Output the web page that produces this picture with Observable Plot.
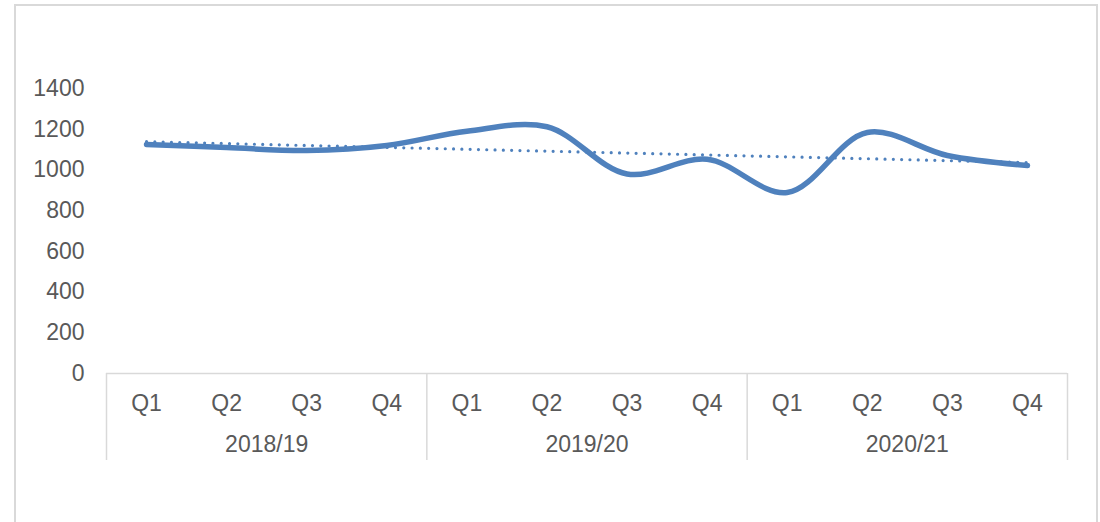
<!DOCTYPE html>
<html>
<head>
<meta charset="utf-8">
<script src="https://cdn.jsdelivr.net/npm/d3@7"></script>
<script src="https://cdn.jsdelivr.net/npm/@observablehq/plot@0.6"></script>
<style>
  html, body { margin: 0; padding: 0; background: #fff; }
  #wrap { position: relative; width: 1100px; height: 522px; overflow: hidden; }
  #border { position: absolute; left: 14px; top: 4px; width: 1084px; height: 560px; border: 2px solid #d9d9d9; box-sizing: border-box; pointer-events: none; }
  #chart { position: absolute; left: 0; top: 0; }
</style>
</head>
<body>
<div id="wrap"><div id="chart"></div><div id="border"></div></div>
<script>
const years = ["2018/19", "2019/20", "2020/21"];
const quarters = ["Q1", "Q2", "Q3", "Q4"];
const values = [1125, 1110, 1095, 1120, 1190, 1212, 980, 1052, 889, 1184, 1071, 1022];
const yTicks = [0, 200, 400, 600, 800, 1000, 1200, 1400];

const data = values.map((v, i) => ({i, v}));

// least-squares linear trendline
const n = values.length;
const mx = d3.mean(data, d => d.i), my = d3.mean(data, d => d.v);
const slope = d3.sum(data, d => (d.i - mx) * (d.v - my)) / d3.sum(data, d => (d.i - mx) ** 2);
const trend = [0, n - 1].map(i => ({i, v: my + slope * (i - mx)}));

const blue = "#4f81bd";
const textColor = "#595959";
const font = "Liberation Sans, Arial, sans-serif";
const fs = 23;

const chart = Plot.plot({
  width: 1100,
  height: 522,
  marginLeft: 106,
  marginRight: 33,
  marginTop: 88,
  marginBottom: 149,
  style: {fontFamily: font, fontSize: fs + "px", color: textColor, background: "transparent"},
  x: {type: "linear", domain: [-0.5, n - 0.5], axis: null},
  y: {domain: [0, 1400], axis: null},
  marks: [
    Plot.axisY({ticks: yTicks, tickSize: 0, tickPadding: 22, tickFormat: d3.format("d"), label: null, fill: textColor, fontSize: fs}),
    Plot.ruleY([0], {stroke: "#d9d9d9", strokeWidth: 1.5}),
    Plot.axisX({ticks: [-0.5, 3.5, 7.5, 11.5], tickSize: 87, tickFormat: () => "", stroke: "#d9d9d9", strokeWidth: 1.5, label: null}),
    Plot.axisX({ticks: d3.range(n), tickSize: 0, tickPadding: 21, tickFormat: i => quarters[i % 4], label: null, fill: textColor, fontSize: fs}),
    Plot.axisX({ticks: years.map((y, k) => k * 4 + 1.5), tickSize: 0, tickPadding: 62, tickFormat: t => years[Math.round((t - 1.5) / 4)], label: null, fill: textColor, fontSize: fs}),
    // soft shadow beneath the series line
    Plot.line(data, {x: "i", y: "v", stroke: "#000", strokeOpacity: 0.18, strokeWidth: 7, dy: 3, curve: "catmull-rom", strokeLinecap: "round", ariaLabel: "shadow-line"}),
    Plot.line(data, {x: "i", y: "v", stroke: blue, strokeWidth: 5.5, curve: "catmull-rom", strokeLinecap: "round"}),
    Plot.line(trend, {x: "i", y: "v", stroke: blue, strokeWidth: 3.2, strokeDasharray: "0 8.3", strokeLinecap: "round"})
  ]
});

// blur the shadow line
const svg = d3.select(chart);
const defs = svg.insert("defs", ":first-child");
defs.append("filter").attr("id", "blur2")
  .attr("filterUnits", "userSpaceOnUse").attr("x", 0).attr("y", 0).attr("width", 1100).attr("height", 522)
  .append("feGaussianBlur").attr("stdDeviation", 2);
svg.select('g[aria-label="shadow-line"]').attr("filter", "url(#blur2)");

document.getElementById("chart").appendChild(chart);
</script>
</body>
</html>
